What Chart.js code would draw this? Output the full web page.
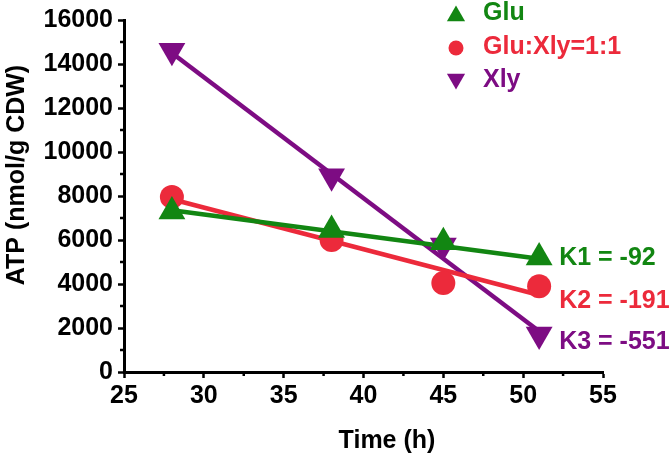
<!DOCTYPE html>
<html>
<head>
  <meta charset="UTF-8">
  <title>ATP vs Time</title>
  <script src="https://cdn.jsdelivr.net/npm/chart.js"></script>
  <style>
    html, body { margin: 0; padding: 0; background: white; }
    #wrap { width: 672px; height: 454px; }
  </style>
</head>
<body>
<div id="wrap"><canvas id="atpChart" width="672" height="454"></canvas></div>
<script>
// measured points
const times = [28, 38, 45, 51];
const glu = [7300, 6450, 5900, 5200];
const gluXly = [7960, 6000, 4040, 3900];
const xly = [14600, 8900, 5750, 1700];

// fitted lines, value at first and last time
const fitTimes = [28, 51];
const gluFit = [7350, 5150];
const gluXlyFit = [7850, 3500];
const xlyFit = [14500, 1850];

const seriesNames = ["Glu", "Glu:Xly=1:1", "Xly"];
const slopeLabels = ["K1 = -92", "K2 = -191", "K3 = -551"];

const GREEN = "#128612", RED = "#ec2a3b", PURPLE = "#7d0c83";
const colors = [GREEN, RED, PURPLE];
const styles = [
  { pointStyle: "triangle", rotation: 0, radius: 15.5, legendRadius: 10.5 },
  { pointStyle: "circle", rotation: 0, radius: 12, legendRadius: 7.5 },
  { pointStyle: "triangle", rotation: 180, radius: 15.5, legendRadius: 10.5 }
];
const FONT = "'Liberation Sans', Arial, sans-serif";

function pts(xs, ys) { return xs.map((x, i) => ({ x: x, y: ys[i] })); }

const fitSets = [gluFit, gluXlyFit, xlyFit].map((f, i) => ({
  data: pts(fitTimes, f),
  showLine: true,
  borderColor: colors[i],
  borderWidth: 4.5,
  pointRadius: 0,
  order: 2
}));
const markSets = [glu, gluXly, xly].map((v, i) => ({
  data: pts(times, v),
  showLine: false,
  backgroundColor: colors[i],
  borderWidth: 0,
  pointStyle: styles[i].pointStyle,
  rotation: styles[i].rotation,
  pointRadius: styles[i].radius,
  pointHoverRadius: styles[i].radius,
  order: 1
}));

// minor ticks, axis titles, legend and slope notes
const extras = {
  id: "extras",
  afterDraw(chart) {
    const ctx = chart.ctx;
    const xs = chart.scales.x, ys = chart.scales.y;
    ctx.save();
    ctx.strokeStyle = "#000";
    ctx.lineWidth = 2.5;
    for (let v = 27.5; v < 55; v += 5) {
      const px = xs.getPixelForValue(v);
      ctx.beginPath(); ctx.moveTo(px, ys.bottom); ctx.lineTo(px, ys.bottom + 4); ctx.stroke();
    }
    for (let v = 1000; v < 16000; v += 2000) {
      const py = ys.getPixelForValue(v);
      ctx.beginPath(); ctx.moveTo(xs.left, py); ctx.lineTo(xs.left - 4, py); ctx.stroke();
    }

    ctx.fillStyle = "#000";
    ctx.textAlign = "center";
    ctx.textBaseline = "middle";
    ctx.font = "bold 25px " + FONT;
    ctx.fillText("Time (h)", 387, 441);
    ctx.save();
    ctx.translate(17, 175);
    ctx.rotate(-Math.PI / 2);
    ctx.fillText("ATP (nmol/g CDW)", 0, 0);
    ctx.restore();

    ctx.textAlign = "left";
    const rows = [13, 47, 80];
    const markShift = [3, 1, -1];
    seriesNames.forEach((name, i) => {
      ctx.fillStyle = colors[i];
      Chart.helpers.drawPoint(ctx, {
        pointStyle: styles[i].pointStyle,
        rotation: styles[i].rotation,
        radius: styles[i].legendRadius,
        borderWidth: 0
      }, 456, rows[i] + markShift[i]);
      ctx.fillText(name, 483, rows[i]);
    });

    const lastX = xs.getPixelForValue(times[times.length - 1]);
    const ends = [glu, gluXly, xly];
    const shift = [1, 15, 8];
    slopeLabels.forEach((t, i) => {
      const v = ends[i][ends[i].length - 1];
      ctx.fillStyle = colors[i];
      ctx.fillText(t, lastX + 20, ys.getPixelForValue(v) + shift[i]);
    });
    ctx.restore();
  }
};

new Chart(document.getElementById("atpChart").getContext("2d"), {
  type: "scatter",
  data: { datasets: markSets.concat(fitSets) },
  options: {
    responsive: false,
    animation: false,
    layout: { padding: { top: 15, right: 69, left: 0, bottom: 0 } },
    plugins: { legend: { display: false }, tooltip: { enabled: false } },
    scales: {
      x: {
        type: "linear",
        min: 25, max: 55,
        afterFit(s) { s.height = 82; },
        ticks: { stepSize: 5, color: "#000", padding: 3, font: { family: FONT, size: 25, weight: "bold" } },
        grid: { drawOnChartArea: false, tickLength: 6, tickWidth: 2.5, tickColor: "#000" },
        border: { color: "#000", width: 3 }
      },
      y: {
        min: 0, max: 16000,
        afterFit(s) { s.width = 124; },
        ticks: { stepSize: 2000, color: "#000", padding: 5,
                 callback: v => String(v),
                 font: { family: FONT, size: 25, weight: "bold" } },
        grid: { drawOnChartArea: false, tickLength: 6, tickWidth: 2.5, tickColor: "#000" },
        border: { color: "#000", width: 3 }
      }
    }
  },
  plugins: [extras]
});
</script>
</body>
</html>
